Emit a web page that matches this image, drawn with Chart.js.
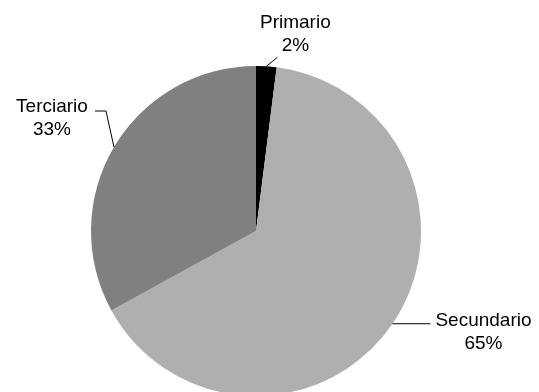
<!DOCTYPE html>
<html>
<head>
<meta charset="utf-8">
<script src="https://cdn.jsdelivr.net/npm/chart.js@4"></script>
<style>
  body { margin: 0; background: #fff; }
  #wrap { width: 539px; height: 392px; overflow: hidden; position: relative; }
</style>
</head>
<body>
<div id="wrap"><canvas id="pieChart" width="539" height="400"></canvas></div>
<script>
const sectors = ['Primario', 'Secundario', 'Terciario'];
const shares = [2, 65, 33];
const sectorColors = ['#000000', '#afafaf', '#808080'];

// leader line bends and text spots, relative to the point where each slice's middle meets the rim
const labelSpots = [
  { line: [[11, -9]], text: [29, -38] },
  { line: [[38, 0]], text: [91, 2] },
  { line: [[-8, -36], [-19, -36]], text: [-62, -35] }
];

const calloutLabels = {
  id: 'calloutLabels',
  afterDatasetsDraw(chart) {
    const ctx = chart.ctx;
    const arcs = chart.getDatasetMeta(0).data;
    ctx.save();
    ctx.strokeStyle = '#000';
    ctx.lineWidth = 1;
    ctx.fillStyle = '#000';
    ctx.font = '19px "Liberation Sans", Arial, sans-serif';
    ctx.textAlign = 'center';
    ctx.textBaseline = 'alphabetic';
    arcs.forEach((arc, i) => {
      const mid = (arc.startAngle + arc.endAngle) / 2;
      const ex = arc.x + Math.cos(mid) * arc.outerRadius;
      const ey = arc.y + Math.sin(mid) * arc.outerRadius;
      const spot = labelSpots[i];
      ctx.beginPath();
      ctx.moveTo(ex, ey);
      spot.line.forEach(p => ctx.lineTo(ex + p[0], ey + p[1]));
      ctx.stroke();
      const tx = ex + spot.text[0];
      const ty = ey + spot.text[1];
      ctx.fillText(chart.data.labels[i], tx, ty);
      ctx.fillText(chart.data.datasets[0].data[i] + '%', tx, ty + 23);
    });
    ctx.restore();
  }
};

new Chart(document.getElementById('pieChart').getContext('2d'), {
  type: 'pie',
  plugins: [calloutLabels],
  data: {
    labels: sectors,
    datasets: [{
      data: shares,
      backgroundColor: sectorColors,
      borderWidth: 0
    }]
  },
  options: {
    responsive: false,
    animation: false,
    layout: {
      padding: { left: 91, right: 118, top: 66, bottom: 4 }
    },
    plugins: {
      legend: { display: false },
      tooltip: { enabled: false }
    }
  }
});
</script>
</body>
</html>
